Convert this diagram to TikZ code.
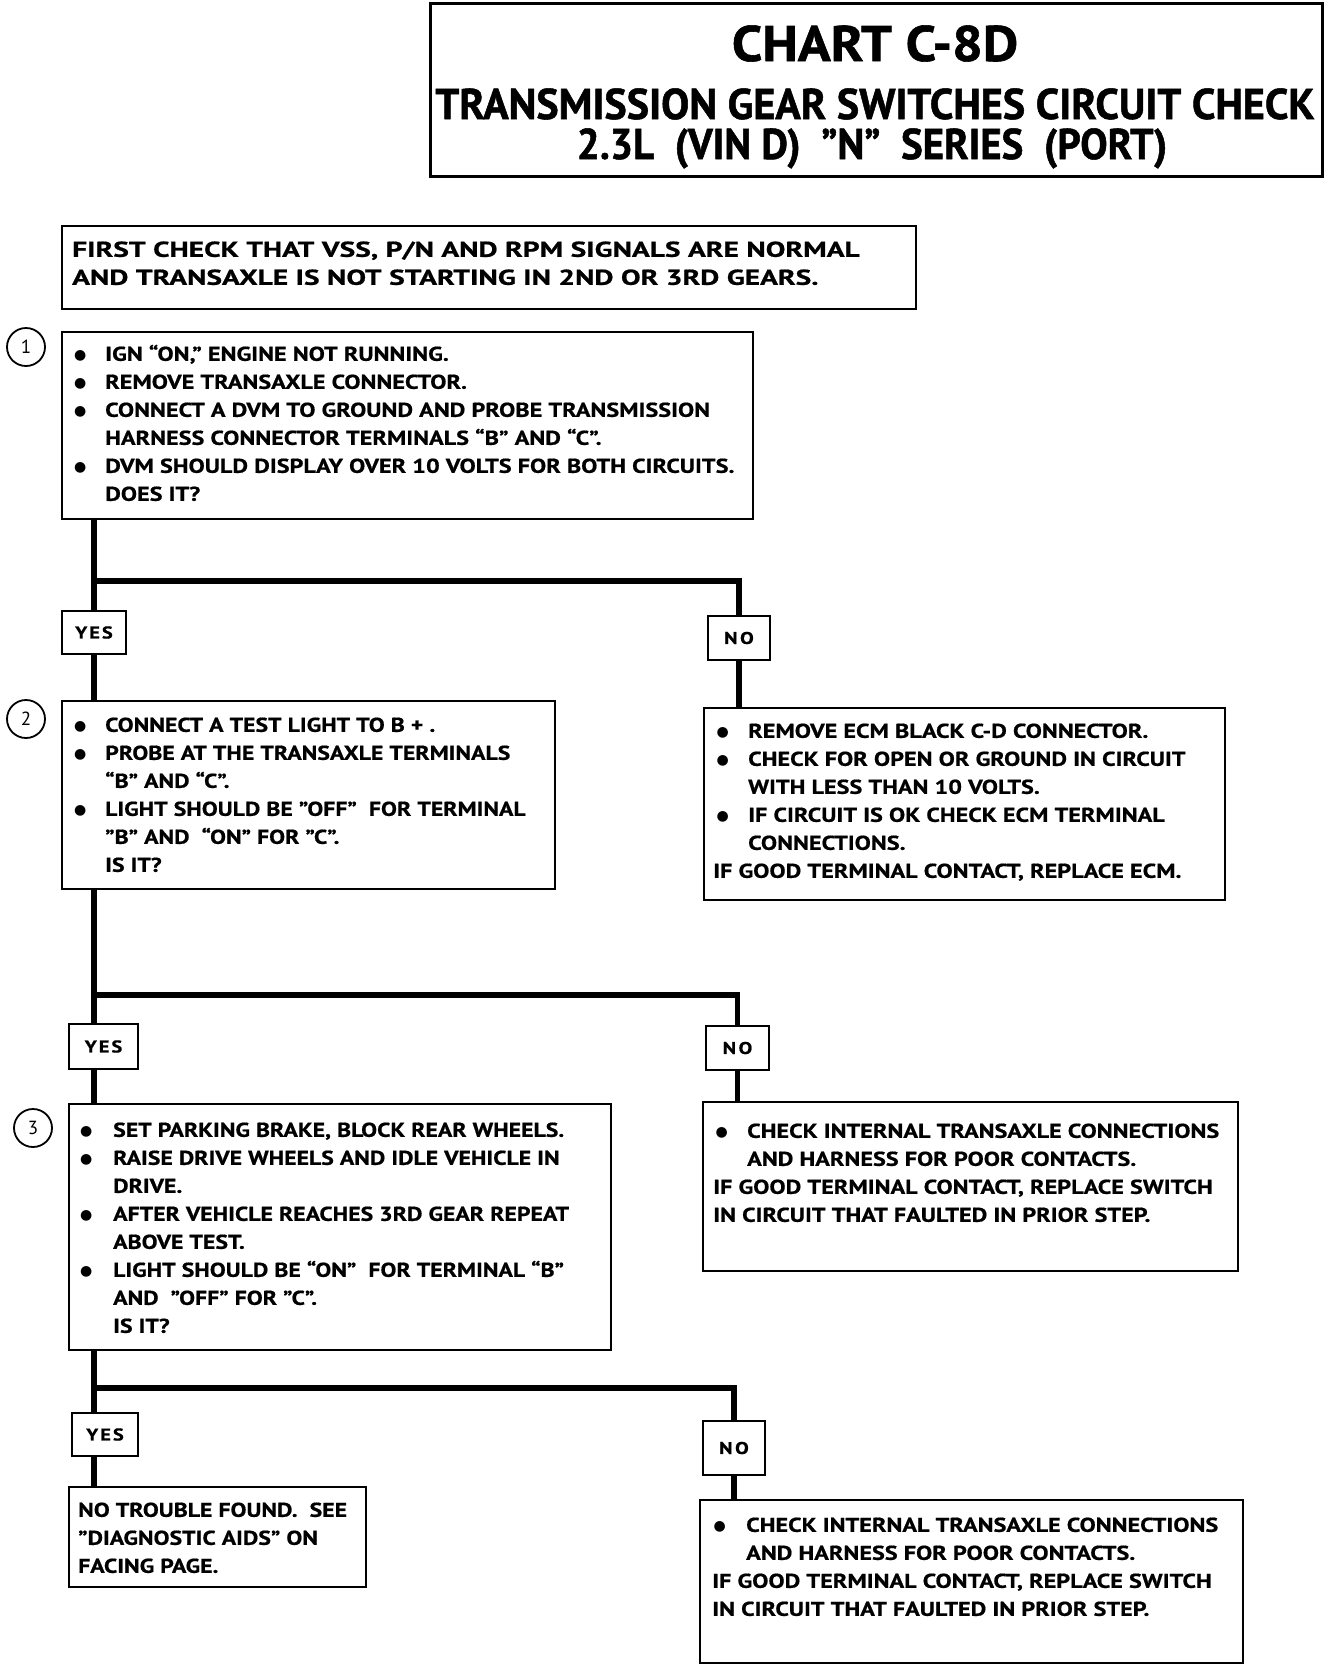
\documentclass[tikz,border=0pt]{standalone}
\usepackage{fontspec}
\setmainfont{PT Sans}
\newfontfamily\titleA{PT Sans}[FakeStretch=1.09,FakeBold=1.2]
\newfontfamily\titleB{PT Sans}[FakeStretch=0.98,FakeBold=1.2]
\newfontfamily\titleC{PT Sans}[FakeStretch=0.95,FakeBold=1.2]
\newfontfamily\firstfont{PT Sans}[FakeStretch=1.37,FakeBold=0.8]
\newfontfamily\bodyA{PT Sans}[FakeStretch=1.19,FakeBold=0.7]
\newfontfamily\bodyB{PT Sans}[FakeStretch=1.21,FakeBold=0.7]
\newfontfamily\tagfont{PT Sans}[FakeStretch=1.2,FakeBold=0.7]
\newfontfamily\dotfont{DejaVu Sans}
\usetikzlibrary{calc}
\newcommand\dotmark{\raisebox{1.5pt}{\dotfont\fontsize{14}{14}\selectfont ●}}
\newcommand\bul[2]{\makebox[#2pt][l]{\hspace*{#1pt}\dotmark}}
\newcommand\ind[1]{\hspace*{#1pt}}
\tikzset{
 frame/.style={draw, line width=2.2pt, inner sep=0pt, anchor=north west},
 tag/.style={draw, line width=2pt, inner sep=0pt, anchor=north west, font=\tagfont\bfseries\fontsize{17}{18}\selectfont},
 body/.style={inner sep=0pt, anchor=north west, align=left, font=\bodyA\bfseries\fontsize{20}{28}\selectfont},
 bodyb/.style={body, font=\bodyB\bfseries\fontsize{20}{28}\selectfont},
 conn/.style={line width=5.5pt},
 num/.style={draw, circle, line width=1.8pt, minimum size=38pt, inner sep=0pt, font=\fontsize{19}{19}\selectfont},
 ttl/.style={inner sep=0pt, anchor=base},
}
\begin{document}
\begin{tikzpicture}[x=1pt,y=-1pt]
\useasboundingbox[fill=white] (0,0) rectangle (1344,1668);
% title
\node[frame, line width=3pt, minimum width=892pt, minimum height=173pt] (title) at (429,2) {};
\node[ttl, font=\titleA\bfseries\fontsize{50}{50}\selectfont] (t1) at (875,61) {CHART C-8D};
\node[ttl, font=\titleB\bfseries\fontsize{43}{43}\selectfont] (t2) at (875,119) {TRANSMISSION GEAR SWITCHES CIRCUIT CHECK};
\node[ttl, font=\titleC\bfseries\fontsize{43}{43}\selectfont] (t3) at (872,159) {2.3L\ \ (VIN D)\ \ ”N”\ \ SERIES\ \ (PORT)};
% first check
\node[frame, minimum width=854pt, minimum height=83pt] (first) at (61,225) {};
\node[body, font=\firstfont\bfseries\fontsize{21.5}{28}\selectfont] (firstt) at (72,237) {\strut FIRST CHECK THAT VSS, P/N AND RPM SIGNALS ARE NORMAL\\AND TRANSAXLE IS NOT STARTING IN 2ND OR 3RD GEARS.};
% step 1
\node[num] (c1) at (26,347) {1};
\node[frame, minimum width=691pt, minimum height=187pt] (b1) at (61,331) {};
\node[bodyb] (b1t) at (74,341) {\strut\bul{0}{31}IGN “ON,” ENGINE NOT RUNNING.\\
\bul{0}{31}REMOVE TRANSAXLE CONNECTOR.\\
\bul{0}{31}CONNECT A DVM TO GROUND AND PROBE TRANSMISSION\\
\ind{31}HARNESS CONNECTOR TERMINALS “B” AND “C”.\\
\bul{0}{31}DVM SHOULD DISPLAY OVER 10 VOLTS FOR BOTH CIRCUITS.\\
\ind{31}DOES\ IT?};
\node[tag, minimum width=64pt, minimum height=43pt] (yes1) at (61,610) {Y\kern2pt E\kern2pt S};
\node[tag, minimum width=62pt, minimum height=44pt] (no1) at (707,615) {N\kern2.5pt O};
% step 2
\node[num] (c2) at (26,719) {2};
\node[frame, minimum width=493pt, minimum height=188pt] (b2) at (61,700) {};
\node[body] (b2t) at (74,712) {\strut\bul{0}{31}CONNECT A TEST LIGHT TO B + .\\
\bul{0}{31}PROBE AT THE TRANSAXLE TERMINALS\\
\ind{31}“B” AND “C”.\\
\bul{0}{31}LIGHT SHOULD BE ”OFF”\ \ FOR TERMINAL\\
\ind{31}”B” AND\ \ “ON” FOR ”C”.\\
\ind{31}IS IT?};
\node[frame, minimum width=521pt, minimum height=192pt] (r1) at (703,707) {};
\node[bodyb] (r1t) at (713,718) {\strut\bul{3.5}{35}REMOVE ECM BLACK C-D CONNECTOR.\\
\bul{3.5}{35}CHECK FOR OPEN OR GROUND IN CIRCUIT\\
\ind{35}WITH LESS THAN 10 VOLTS.\\
\bul{3.5}{35}IF CIRCUIT IS OK CHECK ECM TERMINAL\\
\ind{35}CONNECTIONS.\\
IF GOOD TERMINAL CONTACT, REPLACE ECM.};
\node[tag, minimum width=69pt, minimum height=45pt] (yes2) at (68,1023) {Y\kern2pt E\kern2pt S};
\node[tag, minimum width=63pt, minimum height=44pt] (no2) at (705,1025) {N\kern2.5pt O};
% step 3
\node[num] (c3) at (33,1128) {3};
\node[frame, minimum width=542pt, minimum height=246pt] (b3) at (68,1103) {};
\node[body] (b3t) at (80,1117) {\strut\bul{0}{33}SET PARKING BRAKE, BLOCK REAR WHEELS.\\
\bul{0}{33}RAISE DRIVE WHEELS AND IDLE VEHICLE IN\\
\ind{33}DRIVE.\\
\bul{0}{33}AFTER VEHICLE REACHES 3RD GEAR REPEAT\\
\ind{33}ABOVE TEST.\\
\bul{0}{33}LIGHT SHOULD BE “ON”\ \ FOR TERMINAL “B”\\
\ind{33}AND\ \ ”OFF” FOR ”C”.\\
\ind{33}IS IT?};
\node[frame, minimum width=535pt, minimum height=169pt] (r2) at (702,1101) {};
\node[bodyb] (r2t) at (713,1118) {\strut\bul{2.5}{34}CHECK INTERNAL TRANSAXLE CONNECTIONS\\
\ind{34}AND HARNESS FOR POOR CONTACTS.\\
IF GOOD TERMINAL CONTACT, REPLACE SWITCH\\
IN CIRCUIT THAT FAULTED IN PRIOR STEP.};
\node[tag, minimum width=66pt, minimum height=43pt] (yes3) at (71,1412) {Y\kern2pt E\kern2pt S};
\node[tag, minimum width=62pt, minimum height=54pt] (no3) at (702,1420) {N\kern2.5pt O};
% results
\node[frame, minimum width=297pt, minimum height=100pt] (r3y) at (68,1486) {};
\node[body] (r3yt) at (78,1497) {\strut NO TROUBLE FOUND.\ \ SEE\\
”DIAGNOSTIC AIDS” ON\\
FACING PAGE.};
\node[frame, minimum width=543pt, minimum height=163pt] (r3n) at (699,1499) {};
\node[bodyb] (r3nt) at (712,1512) {\strut\bul{1.5}{34}CHECK INTERNAL TRANSAXLE CONNECTIONS\\
\ind{34}AND HARNESS FOR POOR CONTACTS.\\
IF GOOD TERMINAL CONTACT, REPLACE SWITCH\\
IN CIRCUIT THAT FAULTED IN PRIOR STEP.};
% connectors
\coordinate (j1) at (94,581);
\coordinate (j2) at (94,995);
\coordinate (j3) at (94,1388);
\draw[conn] (b1.south -| j1) -- (yes1.north -| j1);
\draw[conn] (yes1.south -| j1) -- (b2.north -| j1);
\draw[conn] (j1) -| (no1.north);
\draw[conn] (no1.south) -- (r1.north -| no1.south);
\draw[conn] (b2.south -| j2) -- (yes2.north -| j2);
\draw[conn] (yes2.south -| j2) -- (b3.north -| j2);
\draw[conn] (j2) -| (no2.north);
\draw[conn] (no2.south) -- (r2.north -| no2.south);
\draw[conn] (b3.south -| j3) -- (yes3.north -| j3);
\draw[conn] (yes3.south -| j3) -- (r3y.north -| j3);
\draw[conn] (j3) -| (no3.north);
\draw[conn] (no3.south) -- (r3n.north -| no3.south);
\end{tikzpicture}
\end{document}
